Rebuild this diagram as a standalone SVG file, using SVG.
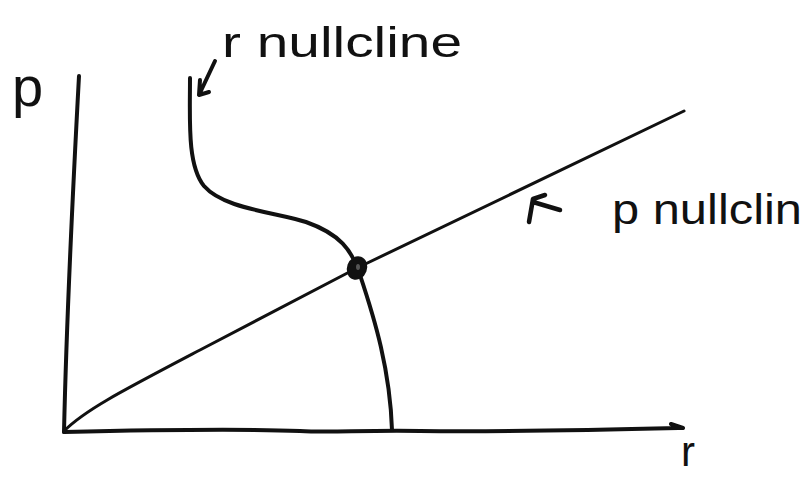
<svg xmlns="http://www.w3.org/2000/svg" width="809" height="477" viewBox="0 0 809 477">
<style>
.ink{fill:none;stroke:#111;stroke-linecap:round;stroke-linejoin:round}
.lbl{font-family:"Liberation Sans","DejaVu Sans",sans-serif;fill:#111}
</style>
<rect width="809" height="477" fill="#fff"/>
<g id="axes">
<path class="ink" stroke-width="4" d="M79,76 C75,150 67,300 64,432"/>
<path class="ink" stroke-width="4" d="M64,432 C150,430 250,429 300,431 C330,433 360,430 420,431 C520,432 600,430 682,428 M671,424 L683,428"/>
</g>
<g id="labels">
<text class="lbl" x="12" y="106" font-size="56">p</text>
<text class="lbl" x="681" y="466" font-size="42">r</text>
</g>
<g id="r-nullcline">
<path class="ink" stroke-width="4" d="M190,78 C190,120 187,165 204,186 C224,209 275,212 306,222 C340,234 352,250 360,275 C375,320 390,370 392,430"/>
<text class="lbl" x="222" y="57" font-size="42" textLength="240" lengthAdjust="spacingAndGlyphs">r nullcline</text>
</g>
<g id="p-nullcline">
<path class="ink" stroke-width="3" d="M64,431 C85,410 120,392 200,350 L357,268 L684,111"/>
<text class="lbl" x="612" y="224" font-size="42" textLength="190" lengthAdjust="spacingAndGlyphs">p nullclin</text>
</g>
<g id="equilibrium">
<ellipse cx="357" cy="268" rx="9" ry="11" transform="rotate(20 357 268)" fill="#111" stroke="#111" stroke-width="2"/>
<ellipse cx="358" cy="267" rx="2" ry="3" fill="#555"/>
</g>
<g id="connectors">
<path class="ink" stroke-width="4" d="M215,61 L199,95 M200,80 L199,95 L209,92"/>
<path class="ink" stroke-width="4.5" d="M560,210 L533,202 M545,195 L533,199 L529,222"/>
</g>
</svg>
